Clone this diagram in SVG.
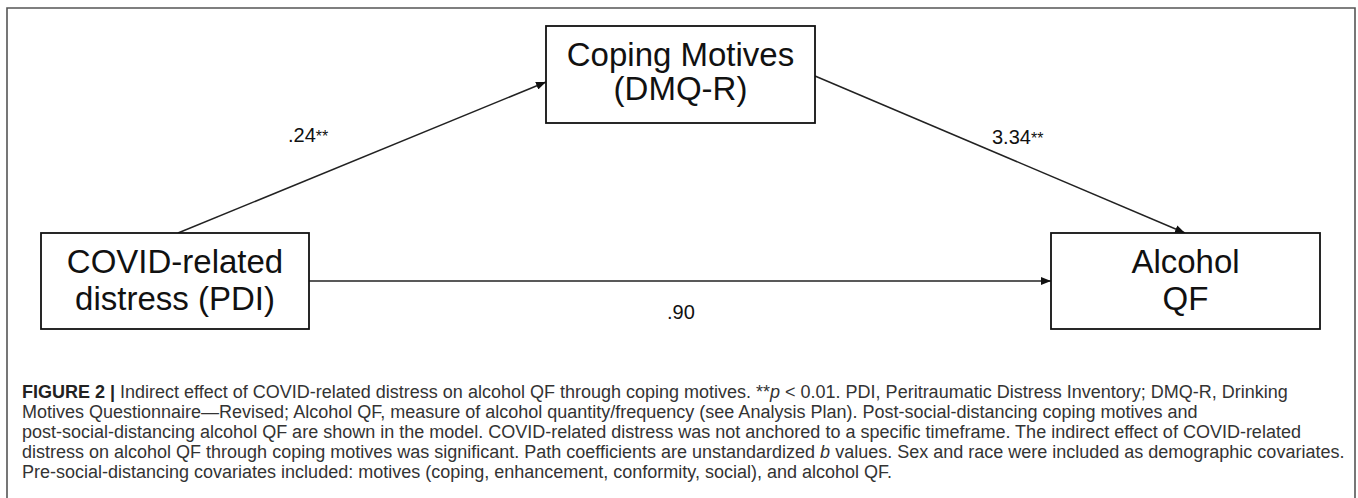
<svg xmlns="http://www.w3.org/2000/svg" width="1358" height="498" viewBox="0 0 1358 498">
<style>
.node rect{fill:#fff;stroke:#111;stroke-width:1.8}
.node text{font-family:"Liberation Sans",Arial,sans-serif;font-size:33px;fill:#111;text-anchor:middle}
.conn line{stroke:#222;stroke-width:1.5}
.lbl{font-family:"Liberation Sans",Arial,sans-serif;font-size:20px;fill:#111}
.ast{font-size:16px}
.cap{font-family:"Liberation Sans",Arial,sans-serif;font-size:18px;fill:#333}
</style>
<defs>
<marker id="ah" viewBox="0 0 10 8" refX="10" refY="4" markerWidth="10" markerHeight="8" markerUnits="userSpaceOnUse" orient="auto">
<path d="M0,0 L10,4 L0,8 Z" fill="#111"/>
</marker>
</defs>
<rect x="0" y="0" width="1358" height="498" fill="#fff"/>
<path d="M7,520 V8 H1355 V520" fill="none" stroke="#555" stroke-width="1.6"/>
<g class="conn">
<line x1="178" y1="233" x2="546" y2="82" marker-end="url(#ah)"/>
<line x1="815" y1="76" x2="1185" y2="233" marker-end="url(#ah)"/>
<line x1="309" y1="281" x2="1051" y2="281" marker-end="url(#ah)"/>
<text class="lbl" x="288" y="142">.24<tspan class="ast">**</tspan></text>
<text class="lbl" x="992" y="144">3.34<tspan class="ast">**</tspan></text>
<text class="lbl" x="667" y="319">.90</text>
</g>
<g id="coping" class="node">
<rect x="546" y="26" width="269" height="97"/>
<text x="680.5" y="66">Coping Motives</text>
<text x="680.5" y="100">(DMQ-R)</text>
</g>
<g id="covid" class="node">
<rect x="41" y="233" width="268" height="96"/>
<text x="175" y="273">COVID-related</text>
<text x="175" y="310">distress (PDI)</text>
</g>
<g id="alcohol" class="node">
<rect x="1051" y="233" width="269" height="96"/>
<text x="1185.5" y="273">Alcohol</text>
<text x="1185.5" y="310">QF</text>
</g>
<g id="caption" class="cap">
<text x="22" y="398"><tspan font-weight="bold" fill="#222">FIGURE 2 | </tspan>Indirect effect of COVID-related distress on alcohol QF through coping motives. **<tspan font-style="italic">p</tspan> &lt; 0.01. PDI, Peritraumatic Distress Inventory; DMQ-R, Drinking</text>
<text x="22" y="418">Motives Questionnaire—Revised; Alcohol QF, measure of alcohol quantity/frequency (see Analysis Plan). Post-social-distancing coping motives and</text>
<text x="22" y="438">post-social-distancing alcohol QF are shown in the model. COVID-related distress was not anchored to a specific timeframe. The indirect effect of COVID-related</text>
<text x="22" y="458">distress on alcohol QF through coping motives was significant. Path coefficients are unstandardized <tspan font-style="italic">b</tspan> values. Sex and race were included as demographic covariates.</text>
<text x="22" y="478">Pre-social-distancing covariates included: motives (coping, enhancement, conformity, social), and alcohol QF.</text>
</g>
</svg>
